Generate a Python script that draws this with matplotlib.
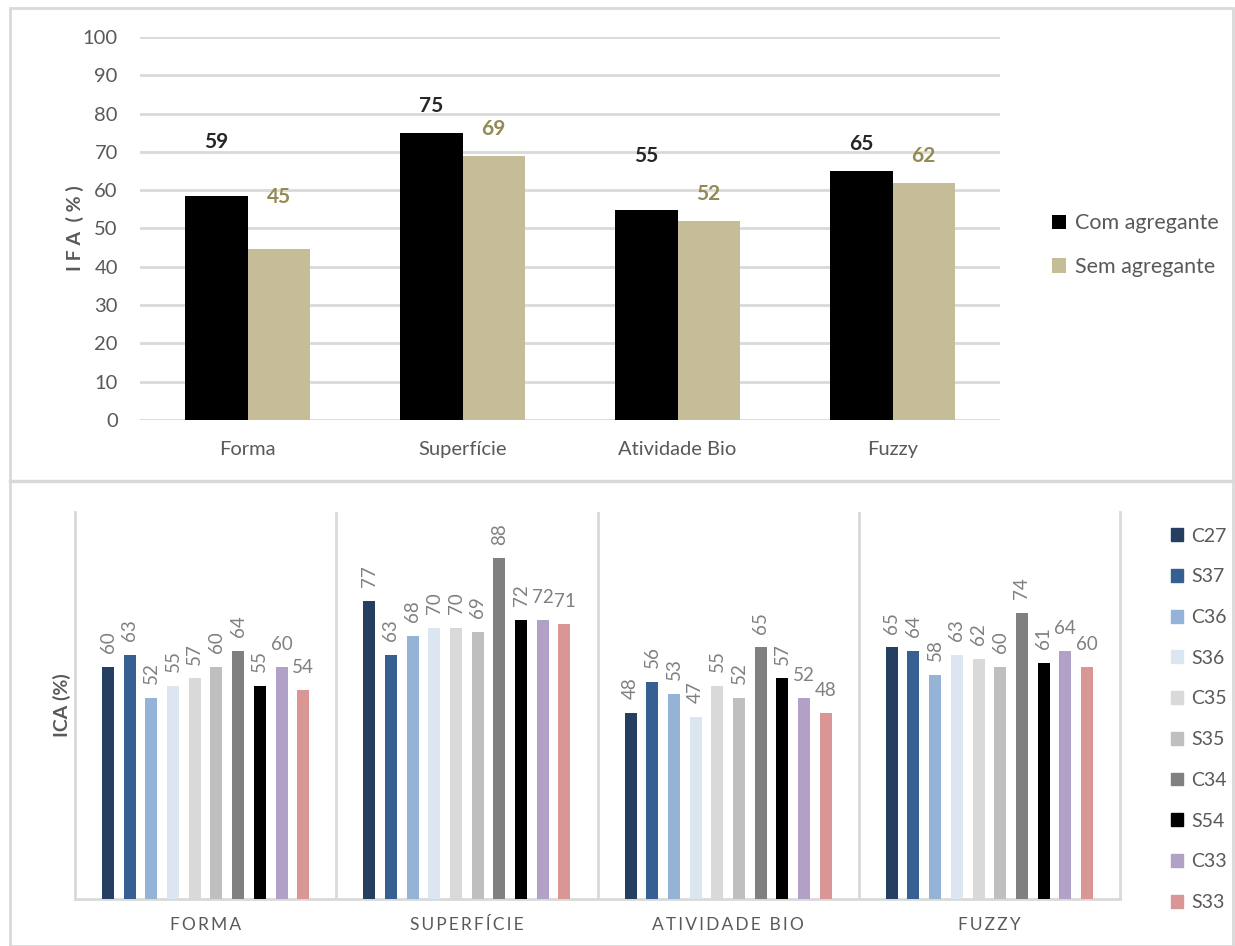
"""Índices IFA e ICA: barras agrupadas em dois painéis."""

import numpy as np
import matplotlib.pyplot as plt
from matplotlib.patches import Rectangle, Patch

plt.rcParams['font.family'] = ['Lato', 'DejaVu Sans']

# --- painel superior (IFA) ---
categorias_ifa = ["Forma", "Superfície", "Atividade Bio", "Fuzzy"]
com_agregante = [58.5, 75.0, 54.8, 65.0]
sem_agregante = [44.7, 68.9, 51.9, 62.0]
rotulos_com = ["59", "75", "55", "65"]
rotulos_sem = ["45", "69", "52", "62"]
yticks_ifa = list(range(0, 101, 10))

# --- painel inferior (ICA) ---
categorias_ica = ["FORMA", "SUPERFÍCIE", "ATIVIDADE BIO", "FUZZY"]
amostras = ["C27", "S37", "C36", "S36", "C35", "S35", "C34", "S54", "C33", "S33"]
ica_forma = [60, 63, 52, 55, 57, 60, 64, 55, 60, 54]
ica_superficie = [77, 63, 68, 70, 70, 69, 88, 72, 72, 71]
ica_atividade = [48, 56, 53, 47, 55, 52, 65, 57, 52, 48]
ica_fuzzy = [65, 64, 58, 63, 62, 60, 74, 61, 64, 60]

# estilos
cor_com = "#000000"
cor_sem = "#C4BD97"
cor_rot_com = "#262626"
cor_rot_sem = "#948A54"
cores_amostras = ["#243F60", "#366092", "#95B3D7", "#DCE6F1", "#D9D9D9",
                  "#BFBFBF", "#808080", "#000000", "#B2A1C7", "#DA9694"]
gap_com = [14, 7, 14, 7]      # distância do rótulo ao topo da barra
gap_sem = [13.5, 7, 7, 7]
cinza = "#595959"
cinza_claro = "#D9D9D9"

fig = plt.figure(figsize=(12.35, 9.46), dpi=100)
W, H = 1235, 946

# moldura dos dois painéis
fig.patches.append(Rectangle((10 / W, 0), 1223 / W, 1 - 8 / H, transform=fig.transFigure,
                             fill=False, edgecolor=cinza_claro, linewidth=2))
fig.lines.append(plt.Line2D([10 / W, 1233 / W], [1 - 481 / H] * 2, transform=fig.transFigure,
                            color=cinza_claro, linewidth=2.5))

# ---------------- IFA ----------------
ax1 = fig.add_axes([140 / W, 1 - 420 / H, 860 / W, 383 / H])
x = np.arange(len(categorias_ifa))
larg = 0.29
b1 = ax1.bar(x - larg / 2, com_agregante, larg, color=cor_com, zorder=3, label="Com agregante")
b2 = ax1.bar(x + larg / 2, sem_agregante, larg, color=cor_sem, zorder=3, label="Sem agregante")
for i in range(len(x)):
    ax1.text(x[i] - larg / 2, com_agregante[i] + gap_com[i], rotulos_com[i], ha="center",
             va="center", fontsize=15, fontweight="bold", color=cor_rot_com)
    ax1.text(x[i] + larg / 2, sem_agregante[i] + gap_sem[i], rotulos_sem[i], ha="center",
             va="center", fontsize=15, fontweight="bold", color=cor_rot_sem)

ax1.set_xlim(-0.5, len(x) - 0.5)
ax1.set_ylim(0, 100)
ax1.set_yticks(yticks_ifa)
ax1.set_xticks(x)
ax1.set_xticklabels(categorias_ifa, fontsize=14.5, color=cinza)
ax1.tick_params(axis="y", labelsize=14.5, labelcolor=cinza, length=0, pad=16)
ax1.tick_params(axis="x", length=0, pad=15)
ax1.grid(axis="y", color=cinza_claro, linewidth=2, zorder=0)
for s in ax1.spines.values():
    s.set_visible(False)
fig.text(75 / W, 1 - 228 / H, "I F A  ( % )", rotation=90, ha="center", va="center",
         fontsize=14, fontweight="bold", color=cinza)
ax1.legend(handles=[b1, b2], loc="upper left", bbox_to_anchor=(1033 / W, 1 - 194 / H),
           bbox_transform=fig.transFigure, frameon=False, fontsize=15.5,
           labelcolor=cinza, handlelength=0.65, handleheight=0.65, handletextpad=0.4,
           labelspacing=1.1)

# ---------------- ICA ----------------
ax2 = fig.add_axes([75 / W, 1 - 899 / H, 1045 / W, 387 / H])
ica = np.array([ica_forma, ica_superficie, ica_atividade, ica_fuzzy])
xc = np.arange(len(categorias_ica))
passo = 0.083
larg2 = 0.046
handles = []
for j, nome in enumerate(amostras):
    pos = xc + (j - (len(amostras) - 1) / 2) * passo
    ax2.bar(pos, ica[:, j], larg2, color=cores_amostras[j], zorder=3, label=nome)
    handles.append(Patch(color=cores_amostras[j], label=nome))
    rot = 0 if j >= 8 else 90
    for p, v in zip(pos, ica[:, j]):
        ax2.annotate(f"{v}", (p, v), xytext=(0, 10), textcoords="offset points",
                     ha="center", va="bottom", rotation=rot, fontsize=13.5, color="#808080")

ax2.set_xlim(-0.5, len(xc) - 0.5)
ax2.set_ylim(0, 100)
ax2.set_yticks([])
ax2.set_xticks(xc)
ax2.set_xticklabels(["\u2009".join(c) for c in categorias_ica], fontsize=12.5, color=cinza)
ax2.tick_params(axis="x", length=0, pad=13)
for sep in xc[:-1] + 0.5:
    ax2.axvline(sep, color=cinza_claro, linewidth=2, zorder=1)
ax2.spines["top"].set_visible(False)
for lado in ("left", "right", "bottom"):
    ax2.spines[lado].set_color(cinza_claro)
    ax2.spines[lado].set_linewidth(2)
fig.text(62 / W, 1 - 705 / H, "ICA (%)", rotation=90, ha="center", va="center",
         fontsize=14, fontweight="bold", color=cinza)
ax2.legend(handles=handles, loc="upper left", bbox_to_anchor=(1153 / W, 1 - 510 / H),
           bbox_transform=fig.transFigure, frameon=False, fontsize=14,
           labelcolor=cinza, handlelength=0.65, handleheight=0.65, handletextpad=0.4,
           labelspacing=1.22)

fig.savefig("out.png", dpi=100)
plt.close(fig)
